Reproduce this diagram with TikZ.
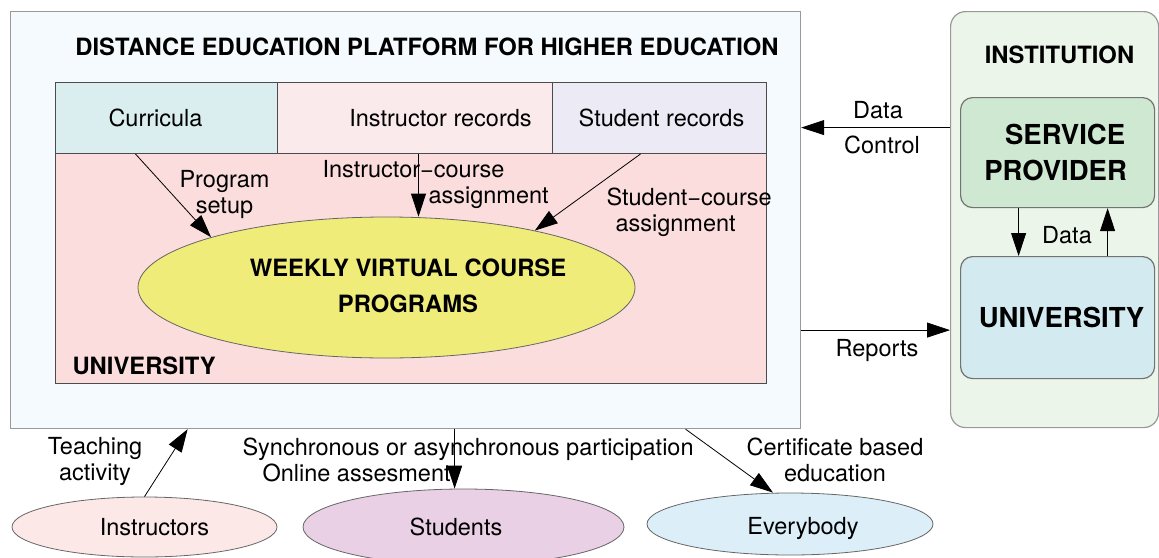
\documentclass[tikz,border=0pt]{standalone}
\usepackage{fontspec}
\setmainfont{TeX Gyre Heros}
\usepackage{xcolor}
\usetikzlibrary{shapes.geometric,arrows.meta}
\definecolor{platbg}{RGB}{244,250,253}
\definecolor{unibg}{RGB}{252,221,221}
\definecolor{currbg}{RGB}{218,238,240}
\definecolor{instrbg}{RGB}{250,234,235}
\definecolor{studbg}{RGB}{235,234,245}
\definecolor{weeklybg}{RGB}{240,236,122}
\definecolor{instbg}{RGB}{236,245,233}
\definecolor{provbg}{RGB}{207,232,210}
\definecolor{univbg}{RGB}{210,234,240}
\definecolor{teachbg}{RGB}{253,232,232}
\definecolor{learnbg}{RGB}{233,208,228}
\definecolor{allbg}{RGB}{220,238,248}

\begin{document}
\begin{tikzpicture}[x=1pt, y=-1pt,
  frame/.style={draw=black!40, line width=1.2pt, anchor=north west, inner sep=0pt},
  cell/.style={draw=black!70, line width=1pt, anchor=north west, inner sep=0pt,
               minimum height=71, font=\fontsize{23.5}{26}\selectfont},
  bubble/.style={ellipse, draw=black!60, line width=0.8pt, inner sep=0pt,
                 font=\fontsize{23.5}{26}\selectfont},
  title/.style={font=\bfseries\fontsize{23.8}{36}\selectfont, align=center},
  bigtitle/.style={font=\bfseries\fontsize{27.5}{36}\selectfont, align=center},
  note/.style={font=\fontsize{23.5}{26}\selectfont, align=center},
  arrow/.style={-{Triangle[length=23pt, width=15pt]}, line width=0.8pt},
]
\useasboundingbox (0,0) rectangle (1159,557);

% Platform
\node[frame, fill=platbg, minimum width=790, minimum height=417] (platform) at (10,11) {};
\node[title] (platname) at (427,47) {DISTANCE EDUCATION PLATFORM FOR HIGHER EDUCATION};

% University area
\node[cell, fill=unibg, minimum width=711, minimum height=301] (uniarea) at (55,82) {};
\node[title, anchor=west] (unilabel) at (69,366) {UNIVERSITY};

% Records
\node[cell, fill=currbg, minimum width=222] (curricula) at (55,82) {Curricula\hspace*{22pt}};
\node[cell, fill=instrbg, minimum width=275] (instrrec) at (277,82) {\hspace*{51pt}Instructor records};
\node[cell, fill=studbg, minimum width=214] (studrec) at (552,82) {\hspace*{4pt}Student records};

% Course programs
\node[bubble, fill=weeklybg, minimum width=497, minimum height=141] (weekly) at (386.5,287.5) {};
\node[title] (weeklytext) at (408,286) {WEEKLY VIRTUAL COURSE\\PROGRAMS};

% Institution
\node[frame, rounded corners=15pt, fill=instbg, minimum width=208, minimum height=416] (institution) at (950,11) {};
\node[title] (instname) at (1059.5,55) {INSTITUTION};
\node[frame, draw=black!55, rounded corners=12pt, fill=provbg, minimum width=194,
      minimum height=110, bigtitle] (provider) at (960,97) {\hspace*{15pt}SERVICE\\PROVIDER\hspace*{4pt}};
\node[frame, draw=black!55, rounded corners=12pt, fill=univbg, minimum width=194,
      minimum height=122, bigtitle] (univ) at (960,256) {\hspace*{8pt}UNIVERSITY};

% Audience
\node[bubble, fill=teachbg, minimum width=265, minimum height=60] (instructors) at (144.5,527) {\hspace*{20pt}Instructors};
\node[bubble, fill=learnbg, minimum width=321, minimum height=76] (students) at (463.5,527) {Students\hspace*{15pt}};
\node[bubble, fill=allbg, minimum width=286, minimum height=62] (everybody) at (790,524) {\hspace*{26pt}\raisebox{-4pt}[\height][\depth]{Everybody}};

% Arrows inside
\draw[arrow] ([xshift=-31pt]curricula.south) -- (weekly.164);
\draw[arrow] ([xshift=3.5pt]instrrec.south) -- ([xshift=3.5pt]instrrec.south |- weekly.north);
\draw[arrow] ([xshift=-19pt]studrec.south) -- (weekly.21);

\node[note] (setuplbl) at (224.5,194.5) {Program\\setup};
\node[note, align=left, anchor=west] (instrlbl) at (319,184.5) {Instructor−course\\\hspace*{106pt}assignment};
\node[note, align=left, anchor=west] (studlbl) at (603,212) {Student−course\\\hspace*{9pt}assignment};

% Arrows right
\draw[arrow] ([yshift=92pt]institution.west) -- ([yshift=92pt]institution.west -| platform.east);
\draw[arrow] ([yshift=-110pt]platform.east) -- ([yshift=-110pt]platform.east -| institution.west);
\draw[arrow] ([xshift=-39pt]provider.south) -- ([xshift=-39pt]provider.south |- univ.north);
\draw[arrow] ([xshift=50pt]univ.north) -- ([xshift=50pt]univ.north |- provider.south);

\node[note] (datalbl) at (878,110) {Data};
\node[note] (ctrllbl) at (882,145) {Control};
\node[note] (reportlbl) at (877,350) {Reports};
\node[note] (flowlbl) at (1067,235) {Data};

% Arrows below
\draw[arrow] (instructors.north) -- ([xshift=-218pt]platform.south);
\draw[arrow] ([xshift=49pt]platform.south) -- ([xshift=49pt]platform.south |- students.north);
\draw[arrow] ([xshift=280pt]platform.south) -- ([xshift=-17pt]everybody.north);

\node[note] (teachlbl) at (95,461) {Teaching\\activity};
\node[note, align=left, anchor=west] (synclbl) at (239,460) {Synchronous or asynchronous participation\\\hspace*{20pt}Online assesment};
\node[note] (certlbl) at (835,460) {Certificate based\\education};

\end{tikzpicture}
\end{document}
